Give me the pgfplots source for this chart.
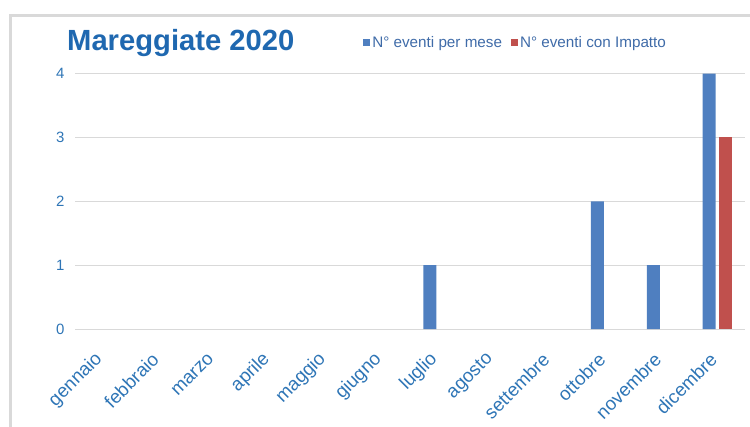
\documentclass[border=0pt]{standalone}
\usepackage{pgfplots}
\pgfplotsset{compat=1.18}
\usepackage{fontspec}
\setmainfont{Liberation Sans}
\definecolor{barblue}{HTML}{4F7FC0}
\definecolor{barred}{HTML}{C0504D}
\definecolor{ticklab}{HTML}{2E75B6}
\definecolor{titleblue}{HTML}{1F68B0}
\definecolor{legtext}{HTML}{3F6BA8}
\definecolor{gridc}{HTML}{D9D9D9}
\definecolor{framec}{HTML}{D9D9D9}
\begin{document}
\begin{tikzpicture}
\path[use as bounding box] (0,0) rectangle (750bp,-427bp);
\begin{scope}
\clip (0,0) rectangle (750bp,-427bp);
\draw[framec, line width=3bp] (10.5bp,-450bp) -- (10.5bp,-15bp) -- (800bp,-15bp);
\end{scope}
\node[anchor=base west, inner sep=0, font=\bfseries\fontsize{29.3}{29}\selectfont, text=titleblue] at (67bp,-50bp) {Mareggiate 2020};
\begin{axis}[
  at={(75bp,-329bp)}, anchor=south west,
  scale only axis, width=670bp, height=255.5bp,
  xmin=-0.5, xmax=11.5, ymin=0, ymax=4,
  axis line style={draw=none},
  ymajorgrids, grid style={gridc, line width=1bp},
  major tick length=0pt,
  ytick={0,1,2,3,4},
  xtick={0,...,11},
  xticklabels={gennaio,febbraio,marzo,aprile,maggio,giugno,luglio,agosto,settembre,ottobre,novembre,dicembre},
  /pgf/number format/assume math mode=true,
  yticklabel style={font=\fontsize{15}{15}\selectfont, text=ticklab, xshift=-7bp},
  xticklabel style={xshift=-1bp, yshift=-25bp, rotate=45, anchor=east, font=\fontsize{18.8}{18.8}\selectfont, text=ticklab},
  ybar, bar width=13bp,
  legend columns=2,
  legend style={draw=none, fill=none, font=\fontsize{15.3}{15.3}\selectfont, text=legtext,
    at={(0.43,1.122)}, anchor=west, inner sep=0pt,
    /tikz/every even column/.append style={column sep=7bp}},
  legend image code/.code={\fill (0bp,-3.5bp) rectangle (7bp,3.5bp);},
]
\addplot[fill=barblue, draw=none, bar shift=-8bp] coordinates {
 (6,1) (9,2) (10,1) (11,4)};
\addplot[fill=barred, draw=none, bar shift=8bp] coordinates {
 (11,3)};
\legend{N° eventi per mese, N° eventi con Impatto}
\end{axis}
\end{tikzpicture}
\end{document}
